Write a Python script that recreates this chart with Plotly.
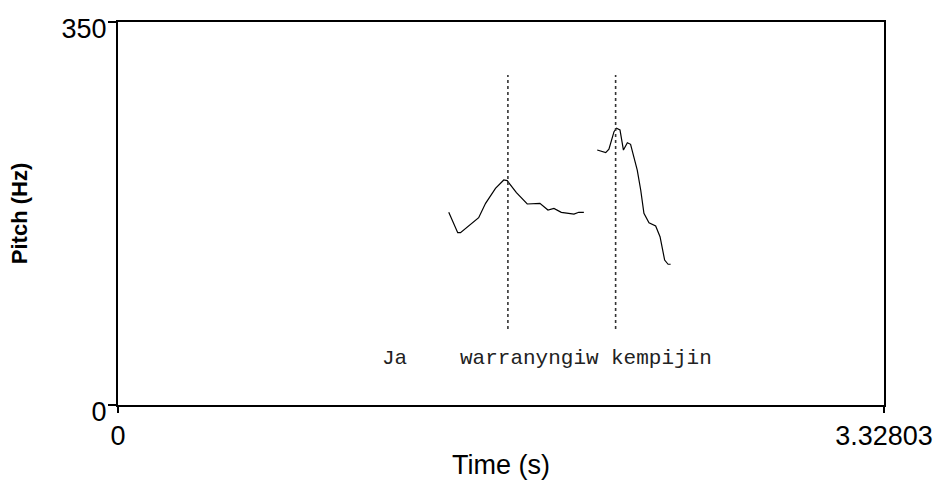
import plotly.graph_objects as go

# Pitch track, voiced stretch 1 (seconds, Hz)
seg1_time = [1.437, 1.476, 1.488, 1.567, 1.597, 1.640, 1.676, 1.691, 1.731,
             1.778, 1.833, 1.868, 1.894, 1.926, 1.981, 2.002, 2.024]
seg1_pitch = [176.1, 157.5, 157.5, 171.2, 184.3, 198.0, 205.6, 205.0, 194.0,
              183.7, 184.3, 178.2, 179.7, 176.1, 174.5, 176.1, 176.1]

# Pitch track, voiced stretch 2
seg2_time = [2.082, 2.119, 2.133, 2.155, 2.166, 2.181, 2.196, 2.213, 2.227,
             2.256, 2.271, 2.285, 2.307, 2.336, 2.355, 2.375, 2.390, 2.401]
seg2_pitch = [233.0, 230.6, 233.7, 249.8, 252.9, 251.3, 233.0, 239.7, 238.2,
              214.7, 196.5, 175.2, 166.6, 163.6, 153.8, 132.5, 128.6, 128.6]

# Boundary markers and their vertical extent
marker_times = [1.694, 2.162]
marker_span = [69.5, 301.6]

# Word labels
words = ["Ja", "warranyngiw", "kempijin"]
word_times = [1.203, 1.786, 2.362]
word_pitch = 42.9

x_range = [0, 3.32803]
y_range = [0, 350]

fig = go.Figure()

for seg_t, seg_f in [(seg1_time, seg1_pitch), (seg2_time, seg2_pitch)]:
    fig.add_trace(go.Scatter(x=seg_t, y=seg_f, mode="lines",
                             line=dict(color="black", width=1.2),
                             showlegend=False, hoverinfo="skip", cliponaxis=False))

for mt in marker_times:
    fig.add_trace(go.Scatter(x=[mt, mt], y=marker_span, mode="lines",
                             line=dict(color="#333333", width=1.6, dash="dot"),
                             showlegend=False, hoverinfo="skip"))

for w, wt in zip(words, word_times):
    fig.add_annotation(x=wt, y=word_pitch, text=w, showarrow=False,
                       xanchor="center", yanchor="middle",
                       font=dict(family="Courier New, Liberation Mono, monospace",
                                 size=21, color="#222222"))

axis_font = dict(family="Liberation Sans, Arial, sans-serif", size=27, color="black")

fig.update_layout(
    width=938, height=480,
    margin=dict(l=118, r=54, t=22, b=75, autoexpand=False),
    paper_bgcolor="white", plot_bgcolor="white",
    xaxis=dict(range=x_range, tickvals=x_range, ticktext=["0", "3.32803"],
               automargin=False,
               showgrid=False, zeroline=False, showline=True, mirror=True,
               linecolor="black", linewidth=2, ticks="outside", ticklen=6,
               tickwidth=2, tickcolor="black", tickfont=axis_font,
               title=dict(text="Time (s)", font=axis_font, standoff=6)),
    yaxis=dict(range=y_range, tickvals=y_range, ticktext=["0", "350"],
               automargin=False,
               showgrid=False, zeroline=False, showline=True, mirror=True,
               linecolor="black", linewidth=2, ticks="outside", ticklen=8,
               tickwidth=2, tickcolor="black", tickfont=axis_font,
               ticklabelshift=7, ticklabelstandoff=-4,
               title=dict(text="<b>Pitch (Hz)</b>",
                          font=dict(family="Liberation Sans, Arial, sans-serif",
                                    size=22, color="black"),
                          standoff=28)),
)

fig.write_html("out.html")
